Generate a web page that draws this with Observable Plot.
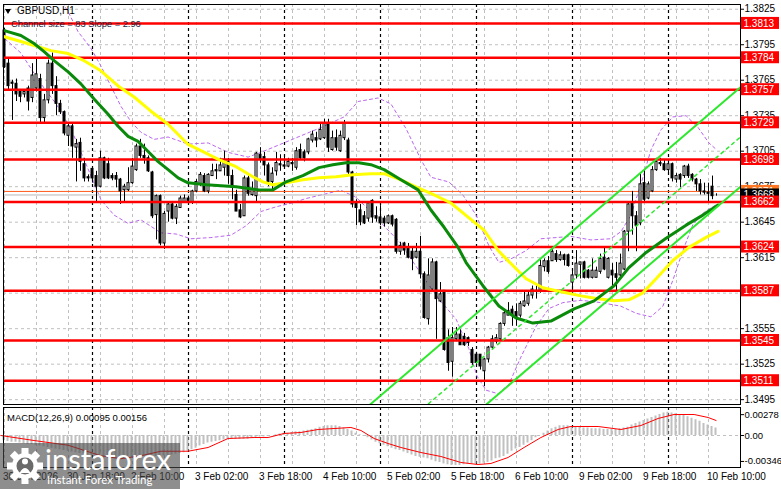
<!DOCTYPE html>
<html>
<head>
<meta charset="utf-8">
<script src="https://cdn.jsdelivr.net/npm/d3@7"></script>
<script src="https://cdn.jsdelivr.net/npm/@observablehq/plot@0.6"></script>
<style>
  html, body { margin: 0; padding: 0; background: #fff; }
  #chart { position: relative; width: 781px; height: 489px; overflow: hidden; background: #fff; font-family: "Liberation Sans", Arial, sans-serif; }
  #chart svg.plotsvg { position: absolute; left: 0; }
  .ov { position: absolute; white-space: nowrap; color: #000; font-family: "Liberation Sans", Arial, sans-serif; }
  #logo { position: absolute; left: 0; top: 443px; width: 180px; height: 46px; background: rgba(72,72,72,0.62); }
</style>
</head>
<body>
<div id="chart"></div>
<script>
// ---------------- DATA ----------------
const FIRST_BAR = 2; // hourly bars, bar 0 = 30 Jan 00:00 (weekend skipped)
const opens = [1.3807,1.3779,1.3763,1.3762,1.3755,1.3753,1.3758,1.3750,1.3758,1.3766,1.3733,1.3748,1.3779,1.3760,1.3745,1.3738,1.3718,1.3726,1.3708,1.3712,1.3694,1.3683,1.3690,1.3684,1.3675,1.3699,1.3694,1.3684,1.3684,1.3681,1.3672,1.3672,1.3678,1.3689,1.3709,1.3701,1.3699,1.3687,1.3651,1.3667,1.3627,1.3654,1.3660,1.3648,1.3657,1.3662,
 1.3665,1.3662,1.3671,1.3677,1.3684,1.3671,1.3684,1.3689,1.3688,1.3691,1.3696,1.3684,1.3668,1.3655,1.3650,1.3682,1.3668,1.3667,1.3702,1.3700,1.3693,1.3679,1.3688,1.3694,1.3693,1.3692,1.3695,1.3691,1.3706,1.3704,1.3704,1.3714,1.3716,1.3715,1.3716,1.3728,1.3706,1.3716,1.3705,1.3716,1.3714,1.3687,1.3662,1.3655,1.3650,1.3648,
 1.3663,1.3650,1.3649,1.3648,1.3644,1.3650,1.3647,1.3620,1.3627,1.3623,1.3620,1.3615,1.3620,1.3601,1.3563,1.3588,1.3611,1.3578,1.3587,1.3547,1.3527,1.3546,1.3550,1.3548,1.3547,1.3537,1.3533,1.3533,1.3519,1.3529,1.3539,1.3544,1.3546,1.3559,1.3566,1.3571,1.3569,1.3566,1.3574,1.3576,1.3583,1.3587,1.3587,1.3607,1.3612,
 1.3612,1.3618,1.3613,1.3617,1.3617,1.3594,1.3600,1.3609,1.3611,1.3604,1.3598,1.3598,1.3603,1.3615,1.3598,1.3604,1.3601,1.3600,1.3605,1.3637,1.3661,1.3650,1.3644,1.3678,1.3665,1.3671,1.3689,1.3695,1.3694,1.3689,1.3694,1.3681,1.3685,1.3684,1.3692,1.3685,1.3681,1.3677,1.3671,1.3670,1.3675,1.3668];
const highs = [1.3809,1.3783,1.3765,1.3766,1.3757,1.3757,1.3760,1.3779,1.3783,1.3770,1.3753,1.3782,1.3788,1.3768,1.3748,1.3739,1.3728,1.3728,1.3715,1.3716,1.3699,1.3685,1.3691,1.3688,1.3705,1.3700,1.3699,1.3686,1.3687,1.3682,1.3677,1.3691,1.3699,1.3711,1.3715,1.3711,1.3701,1.3688,1.3668,1.3668,1.3654,1.3662,1.3661,1.3660,1.3667,1.3668,
 1.3667,1.3672,1.3681,1.3687,1.3686,1.3686,1.3694,1.3694,1.3699,1.3705,1.3699,1.3689,1.3672,1.3660,1.3684,1.3684,1.3679,1.3704,1.3708,1.3704,1.3695,1.3691,1.3704,1.3702,1.3702,1.3699,1.3699,1.3708,1.3711,1.3706,1.3716,1.3722,1.3721,1.3728,1.3732,1.3732,1.3722,1.3723,1.3722,1.3731,1.3716,1.3688,1.3664,1.3660,1.3654,1.3662,
 1.3664,1.3658,1.3659,1.3650,1.3651,1.3651,1.3648,1.3628,1.3628,1.3627,1.3623,1.3627,1.3633,1.3603,1.3614,1.3614,1.3612,1.3594,1.3587,1.3554,1.3556,1.3556,1.3554,1.3551,1.3548,1.3539,1.3535,1.3533,1.3530,1.3540,1.3549,1.3550,1.3560,1.3570,1.3577,1.3574,1.3576,1.3578,1.3586,1.3587,1.3591,1.3593,1.3613,1.3614,1.3616,
 1.3623,1.3621,1.3620,1.3618,1.3618,1.3604,1.3621,1.3611,1.3612,1.3605,1.3614,1.3607,1.3618,1.3624,1.3615,1.3610,1.3611,1.3618,1.3638,1.3661,1.3671,1.3654,1.3687,1.3689,1.3679,1.3692,1.3699,1.3699,1.3698,1.3695,1.3695,1.3686,1.3686,1.3693,1.3694,1.3686,1.3682,1.3681,1.3678,1.3678,1.3684,1.3669];
const lows = [1.3775,1.3756,1.3731,1.3747,1.3746,1.3750,1.3739,1.3746,1.3755,1.3729,1.3729,1.3745,1.3753,1.3735,1.3736,1.3718,1.3709,1.3699,1.3679,1.3688,1.3679,1.3679,1.3678,1.3662,1.3674,1.3681,1.3681,1.3680,1.3674,1.3660,1.3661,1.3671,1.3677,1.3688,1.3699,1.3694,1.3687,1.3648,1.3630,1.3625,1.3622,1.3645,1.3647,1.3643,1.3657,1.3661,
 1.3661,1.3660,1.3670,1.3675,1.3670,1.3669,1.3684,1.3681,1.3688,1.3684,1.3677,1.3664,1.3654,1.3648,1.3650,1.3667,1.3667,1.3662,1.3695,1.3684,1.3675,1.3671,1.3684,1.3688,1.3691,1.3691,1.3688,1.3689,1.3698,1.3696,1.3702,1.3712,1.3708,1.3714,1.3715,1.3704,1.3705,1.3705,1.3704,1.3714,1.3685,1.3657,1.3642,1.3642,1.3643,1.3645,
 1.3644,1.3645,1.3642,1.3641,1.3643,1.3641,1.3618,1.3617,1.3617,1.3614,1.3604,1.3614,1.3597,1.3563,1.3558,1.3587,1.3546,1.3577,1.3536,1.3519,1.3514,1.3544,1.3541,1.3540,1.3540,1.3524,1.3524,1.3520,1.3506,1.3526,1.3537,1.3542,1.3544,1.3557,1.3566,1.3557,1.3557,1.3564,1.3573,1.3574,1.3580,1.3580,1.3585,1.3603,1.3601,
 1.3612,1.3611,1.3612,1.3608,1.3607,1.3586,1.3597,1.3597,1.3597,1.3597,1.3597,1.3598,1.3601,1.3604,1.3597,1.3591,1.3586,1.3597,1.3604,1.3620,1.3634,1.3620,1.3642,1.3662,1.3664,1.3670,1.3688,1.3692,1.3688,1.3687,1.3679,1.3678,1.3674,1.3682,1.3682,1.3679,1.3671,1.3668,1.3668,1.3662,1.3664,1.3667];
const closes = [1.3776,1.3760,1.3762,1.3753,1.3751,1.3755,1.3747,1.3769,1.3770,1.3733,1.3748,1.3779,1.3760,1.3745,1.3738,1.3720,1.3726,1.3709,1.3711,1.3696,1.3682,1.3682,1.3682,1.3675,1.3699,1.3682,1.3682,1.3682,1.3681,1.3671,1.3675,1.3678,1.3692,1.3709,1.3701,1.3699,1.3688,1.3650,1.3667,1.3627,1.3652,1.3660,1.3648,1.3658,1.3665,1.3665,
 1.3663,1.3671,1.3679,1.3685,1.3671,1.3685,1.3688,1.3688,1.3693,1.3696,1.3684,1.3674,1.3654,1.3649,1.3682,1.3669,1.3673,1.3703,1.3698,1.3693,1.3679,1.3686,1.3695,1.3693,1.3692,1.3696,1.3694,1.3705,1.3699,1.3699,1.3715,1.3719,1.3714,1.3723,1.3728,1.3708,1.3716,1.3708,1.3718,1.3728,1.3687,1.3660,1.3657,1.3645,1.3644,1.3661,
 1.3649,1.3648,1.3644,1.3644,1.3650,1.3643,1.3620,1.3625,1.3621,1.3615,1.3614,1.3620,1.3601,1.3564,1.3600,1.3611,1.3580,1.3584,1.3537,1.3526,1.3547,1.3550,1.3541,1.3541,1.3543,1.3526,1.3526,1.3523,1.3529,1.3539,1.3546,1.3547,1.3559,1.3568,1.3570,1.3566,1.3564,1.3576,1.3578,1.3583,1.3588,1.3586,1.3608,1.3612,1.3603,
 1.3620,1.3613,1.3617,1.3613,1.3608,1.3600,1.3610,1.3611,1.3598,1.3598,1.3604,1.3604,1.3614,1.3605,1.3614,1.3600,1.3598,1.3610,1.3637,1.3660,1.3650,1.3642,1.3677,1.3664,1.3677,1.3689,1.3696,1.3694,1.3689,1.3694,1.3682,1.3684,1.3681,1.3692,1.3684,1.3681,1.3677,1.3671,1.3670,1.3669,1.3667,1.3668];

// MACD histogram (one per bar) and signal line
const macdHist = [-0.0007,-0.0008,-0.0009,-0.0009,-0.0010,-0.0011,-0.0012,-0.0012,-0.0013,
 -0.0014,-0.0015,-0.0016,-0.0017,-0.0018,-0.0019,-0.0020,-0.0021,-0.0022,-0.0023,
 -0.0024,-0.0025,-0.0026,-0.0027,-0.0028,-0.0029,-0.0030,-0.0030,-0.0031,-0.0031,
 -0.0031,-0.0031,-0.0030,-0.0030,-0.0029,-0.0028,-0.0028,-0.0027,-0.0027,-0.0028,
 -0.0028,-0.0027,-0.0027,-0.0026,-0.0025,-0.0024,-0.0023,-0.0021,-0.0019,-0.0017,
 -0.0014,-0.0012,-0.0010,-0.0009,-0.0008,-0.0007,-0.0006,-0.0005,-0.0005,-0.0005,
 -0.0005,-0.0005,-0.0005,-0.0004,-0.0003,-0.0002,-0.0002,-0.0001,0.0000,0.0001,
 0.0002,0.0003,0.0003,0.0004,0.0005,0.0005,0.0006,0.0007,0.0008,0.0009,
 0.0011,0.0012,0.0013,0.0013,0.0013,0.0012,0.0010,0.0008,0.0006,0.0003,
 0.0001,-0.0001,-0.0003,-0.0006,-0.0009,-0.0011,-0.0013,-0.0015,-0.0017,-0.0019,
 -0.0020,-0.0022,-0.0024,-0.0026,-0.0028,-0.0029,-0.0030,-0.0031,-0.0033,-0.0035,
 -0.0036,-0.0038,-0.0039,-0.0040,-0.0040,-0.0040,-0.0039,-0.0038,-0.0038,-0.0038,
 -0.0038,-0.0037,-0.0036,-0.0034,-0.0031,-0.0030,-0.0028,-0.0025,-0.0021,-0.0018,
 -0.0016,-0.0013,-0.0010,-0.0007,-0.0003,0.0000,0.0003,0.0006,0.0009,0.0011,
 0.0013,0.0013,0.0013,0.0012,0.0012,0.0011,0.0010,0.0010,0.0009,0.0009,
 0.0009,0.0008,0.0008,0.0008,0.0008,0.0009,0.0010,0.0011,0.0014,0.0016,
 0.0018,0.0020,0.0022,0.0024,0.0026,0.0028,0.0030,0.0031,0.0030,0.0029,
 0.0028,0.0027,0.0025,0.0023,0.0021,0.0019,0.0016,0.0014,0.0012,0.0010];
const signalBars = [1.1,9.4,17.9,26.1,31.1,36.1,41.1,47.9,52.9,57.9,64.4,67.9,71.9,76.1,80.4,84.4,88.6,91.1,94.4,97.9,101.1,106.1,111.1,116.1,120.4,123.6,127.9,131.9,136.1,140.4,143.6,150.4,156.1,161.1,165.4,169.4,174.4,177.9,179.9];
const signalValues = [0,-0.00067,-0.0013,-0.0027,-0.0031,-0.0027,-0.0021,-0.0021,-0.0016,-0.0004,-0.00027,-0.00027,0.00027,0.0004,0.0008,0.00093,0.00107,0.00067,-0.0004,-0.00107,-0.0016,-0.00227,-0.0028,-0.0036,-0.00387,-0.00373,-0.00293,-0.0016,-0.00027,0.0008,0.0012,0.0012,0.0008,0.00133,0.00227,0.0028,0.0028,0.0024,0.002];

// moving averages (green fast, yellow slow)
const greenMaBars = [1.75,6.1,9.4,11.9,14.4,17.9,21.1,24.4,27.9,30.4,32.9,35.4,37.9,40.4,42.9,45.4,47.9,52.4,59.9,65.6,69.1,72.4,76.6,80.6,84.1,87.4,90.6,93.6,96.9,101.1,105.4,108.6,111.9,115.4,117.4,121.6,125.6,129.9,134.1,138.6,144.4,149.4,154.4,158.1,162.4,167.4,172.4,176.6,180.4];
const greenMaPrices = [1.38071,1.38028,1.37960,1.37892,1.37815,1.37721,1.37619,1.37491,1.37363,1.37261,1.37175,1.37133,1.37047,1.36962,1.36894,1.36825,1.36783,1.36766,1.36749,1.36723,1.36723,1.36791,1.36843,1.36911,1.36936,1.36953,1.36953,1.36936,1.36894,1.36808,1.36723,1.36553,1.36407,1.36237,1.36109,1.35913,1.35742,1.35640,1.35597,1.35614,1.35717,1.35785,1.35913,1.36066,1.36194,1.36314,1.36425,1.36510,1.36595];
const yellowMaBars = [1.75,6.1,9.4,13.6,17.9,21.9,26.1,30.4,34.4,38.6,42.9,47.9,51.6,55.6,59.9,64.1,66.6,69.1,72.4,76.6,80.6,84.9,89.1,93.6,96.9,101.1,105.4,109.4,113.6,117.9,121.9,125.4,128.1,132.4,136.6,141.1,146.1,150.4,154.4,158.1,161.6,164.9,169.1,173.1,177.4,180.4];
const yellowMaPrices = [1.38020,1.37977,1.37943,1.37900,1.37875,1.37815,1.37730,1.37602,1.37508,1.37388,1.37278,1.37107,1.37047,1.36979,1.36919,1.36834,1.36791,1.36766,1.36783,1.36808,1.36825,1.36834,1.36851,1.36860,1.36860,1.36808,1.36740,1.36680,1.36612,1.36493,1.36382,1.36211,1.36117,1.35972,1.35896,1.35862,1.35827,1.35802,1.35785,1.35794,1.35853,1.35972,1.36126,1.36237,1.36322,1.36373];

// envelope bands (purple dashed)
const bandUpperBars = [12.4,17.9,20.4,23.6,26.1,28.6,31.1,33.6,36.1,39.4,42.9,47.9,52.9,57.9,62.9,66.1,71.1,76.1,81.1,86.9,90.4,95.4,98.6,102.4,106.1,108.6,113.1,116.6,119.9,123.1,125.6,128.6,132.4,136.1,139.9,143.6,148.6,153.6,156.1,158.6,161.1,163.6,166.1,169.1,172.4,175.4,178.1,180.1];
const bandUpperPrices = [1.3852,1.3823,1.3806,1.3792,1.3777,1.3760,1.3743,1.3730,1.3721,1.3715,1.3717,1.3711,1.3712,1.3704,1.3700,1.3704,1.3711,1.3718,1.3725,1.3734,1.3747,1.3750,1.3745,1.3724,1.3698,1.3683,1.3679,1.3668,1.3651,1.3625,1.3611,1.3614,1.3621,1.3631,1.3632,1.3633,1.3630,1.3631,1.3637,1.3651,1.3677,1.3706,1.3723,1.3734,1.3735,1.3725,1.3712,1.3706];
const bandLowerBars = [2.1,6.1,11.1,14.9,18.6,22.4,26.1,29.4,32.9,36.1,41.1,44.9,48.6,53.6,58.6,62.4,66.1,69.9,73.6,77.4,81.1,86.1,89.9,93.6,97.4,101.1,105.6,110.6,114.9,118.1,120.1,122.4,125.4,128.1,131.1,134.9,138.1,141.6,146.1,151.1,156.1,159.9,163.6,166.6,169.1,171.6,174.1,177.1,180.1];
const bandLowerPrices = [1.3800,1.3788,1.3762,1.3745,1.3724,1.3694,1.3664,1.3651,1.3644,1.3647,1.3636,1.3635,1.3631,1.3632,1.3634,1.3642,1.3654,1.3658,1.3661,1.3665,1.3668,1.3672,1.3666,1.3654,1.3640,1.3627,1.3604,1.3580,1.3563,1.3538,1.3515,1.3503,1.3500,1.3508,1.3531,1.3557,1.3572,1.3577,1.3579,1.3577,1.3574,1.3568,1.3565,1.3574,1.3596,1.3621,1.3643,1.3654,1.3660];

// regression channel (two points per line)
const channelUpperBars = [90, 186],  channelUpperPrices = [1.3481, 1.3759];
const channelMiddleBars = [104, 186], channelMiddlePrices = [1.3480, 1.3717];
const channelLowerBars = [118, 186], channelLowerPrices = [1.3478, 1.3675];

// horizontal levels and quote lines
const levels = [1.3813, 1.3784, 1.3757, 1.3729, 1.3698, 1.3662, 1.3624, 1.3587, 1.3545, 1.3511];
const askPrice = 1.3671, bidPrice = 1.3668;
const priceTicks = [1.3825, 1.3795, 1.3765, 1.3735, 1.3705, 1.3675, 1.3645, 1.3615, 1.3585, 1.3555, 1.3525, 1.3495];
const macdTicks = [0.00278, 0, -0.00346];

// time axis
const timeLabelBars = [2, 18, 34, 50, 66, 82, 98, 114, 130, 146, 162, 178];
const timeLabels = ["30 Jan 2026", "30 Jan 18:00", "2 Feb 10:00", "3 Feb 02:00", "3 Feb 18:00", "4 Feb 10:00", "5 Feb 02:00", "5 Feb 18:00", "6 Feb 10:00", "9 Feb 02:00", "9 Feb 18:00", "10 Feb 10:00"];
const gridBars = [2,10,18,26,34,42,50,58,66,74,82,90,98,106,114,122,130,138,146,154,162,170,178];
const dayStartBars = [24, 48, 72, 96, 120, 144, 168];

// ---------------- BUILD ----------------
const candles = opens.map((o, i) => ({bar: FIRST_BAR + i, open: o, high: highs[i], low: lows[i], close: closes[i]}));
const bulls = candles.filter(d => d.close >= d.open);
const bears = candles.filter(d => d.close < d.open);
const hist = macdHist.map((v, i) => ({bar: FIRST_BAR + i, v}));
const pts = (bs, ps) => bs.map((b, i) => ({bar: b, price: ps[i]}));
const signal = pts(signalBars, signalValues);
const greenMa = pts(greenMaBars, greenMaPrices);
const yellowMa = pts(yellowMaBars, yellowMaPrices);
const bandUp = pts(bandUpperBars, bandUpperPrices);
const bandLo = pts(bandLowerBars, bandLowerPrices);
const chUp = pts(channelUpperBars, channelUpperPrices);
const chMid = pts(channelMiddleBars, channelMiddlePrices);
const chLo = pts(channelLowerBars, channelLowerPrices);
const labelMap = new Map(timeLabelBars.map((b, i) => [b, timeLabels[i]]));

const X_DOMAIN = [1.75, 186];
const XMAX = X_DOMAIN[1];
const FONT = "Liberation Sans, Arial, sans-serif";

const boxMarks = (vals, fill, textFill) => [
  Plot.rect(vals, {x1: () => XMAX, x2: () => XMAX, y1: d => d, y2: d => d,
    insetLeft: 1, insetRight: -39, insetTop: -6, insetBottom: -6, fill}),
  Plot.text(vals, {x: () => XMAX, y: d => d, text: d => d.toFixed(4), dx: 3,
    textAnchor: "start", fill: textFill, fontSize: 10})
];

const main = Plot.plot({
  width: 781, height: 405,
  marginLeft: 3, marginRight: 41, marginTop: 4, marginBottom: 1,
  x: {domain: X_DOMAIN, axis: null},
  y: {domain: [1.34909, 1.38290], axis: null},
  style: {fontFamily: FONT, fontSize: "10px", background: "transparent", overflow: "visible"},
  marks: [
    Plot.ruleY(priceTicks, {stroke: "#c0c0c0", strokeDasharray: "3,3"}),
    Plot.ruleX(gridBars, {stroke: "#c0c0c0", strokeDasharray: "3,3"}),
    Plot.ruleX(dayStartBars, {stroke: "#000", strokeDasharray: "3,3", strokeWidth: 1.2}),
    Plot.line(bandUp, {x: "bar", y: "price", stroke: "#bb66ee", strokeDasharray: "3,3", strokeWidth: 1, clip: true}),
    Plot.line(bandLo, {x: "bar", y: "price", stroke: "#bb66ee", strokeDasharray: "3,3", strokeWidth: 1, clip: true}),
    Plot.ruleY([bidPrice], {stroke: "#b8b8b8", strokeWidth: 1}),
    Plot.ruleY([askPrice], {stroke: "#ff5a1a", strokeWidth: 1}),
    Plot.ruleX(candles, {x: "bar", y1: "low", y2: "high", stroke: "#000", strokeWidth: 1}),
    Plot.rect(bulls, {x1: d => d.bar - 0.25, x2: d => d.bar + 0.25, y1: "open", y2: "close", fill: "#fff", stroke: "#000", strokeWidth: 1}),
    Plot.rect(bears, {x1: d => d.bar - 0.25, x2: d => d.bar + 0.25, y1: "open", y2: "close", fill: "#000", stroke: "#000", strokeWidth: 1}),
    Plot.ruleY(levels, {stroke: "#ff0000", strokeWidth: 2.5}),
    Plot.line(yellowMa, {x: "bar", y: "price", stroke: "#ffff00", strokeWidth: 3, clip: true}),
    Plot.line(greenMa, {x: "bar", y: "price", stroke: "#0a8a0a", strokeWidth: 3, clip: true}),
    Plot.line(chUp, {x: "bar", y: "price", stroke: "#2ee82e", strokeWidth: 2, clip: true}),
    Plot.line(chLo, {x: "bar", y: "price", stroke: "#2ee82e", strokeWidth: 2, clip: true}),
    Plot.line(chMid, {x: "bar", y: "price", stroke: "#2ee82e", strokeWidth: 1.5, strokeDasharray: "3,4", clip: true}),
    Plot.frame({stroke: "#000"}),
    Plot.axisY(priceTicks, {anchor: "right", tickFormat: d => d.toFixed(4), tickSize: 3, tickPadding: 1, label: null, fontSize: 10}),
    ...boxMarks([askPrice], "#ff7722", "#fff"),
    ...boxMarks([bidPrice], "#000", "#fff"),
    ...boxMarks(levels, "#ff0000", "#fff")
  ]
});
main.classList.add("plotsvg");
main.style.top = "0px";

const macd = Plot.plot({
  width: 781, height: 84,
  marginLeft: 3, marginRight: 41, marginTop: 2, marginBottom: 22,
  x: {domain: X_DOMAIN, axis: null},
  y: {domain: [-0.004267, 0.003733], axis: null},
  style: {fontFamily: FONT, fontSize: "10px", background: "transparent", overflow: "visible"},
  marks: [
    Plot.ruleX(gridBars, {stroke: "#c0c0c0", strokeDasharray: "3,3"}),
    Plot.ruleX(dayStartBars, {stroke: "#000", strokeDasharray: "3,3", strokeWidth: 1.2}),
    Plot.ruleY([0], {stroke: "#c0c0c0", strokeDasharray: "3,3"}),
    Plot.rect(hist, {x1: d => d.bar - 0.375, x2: d => d.bar + 0.125, y1: () => 0, y2: "v", fill: "#c0c0c0"}),
    Plot.line(signal, {x: "bar", y: "price", stroke: "#ff0000", strokeWidth: 1}),
    Plot.frame({stroke: "#000"}),
    Plot.axisY(macdTicks, {anchor: "right", tickFormat: d => d === 0 ? "0.00" : d.toFixed(5), tickSize: 3, tickPadding: 1, label: null, fontSize: 9.5}),
    Plot.axisX(timeLabelBars, {anchor: "bottom", tickFormat: d => labelMap.get(d), textAnchor: "start", tickSize: 0, tickPadding: 5, dx: -1.5, label: null, fontSize: 10})
  ]
});
macd.classList.add("plotsvg");
macd.style.top = "405px";

const chart = document.getElementById("chart");
chart.appendChild(main);
chart.appendChild(macd);

// ---- overlays: titles and logo ----
function ov(text, left, top, size, color) {
  const d = document.createElement("div");
  d.className = "ov";
  d.textContent = text;
  Object.assign(d.style, {left: left + "px", top: top + "px", fontSize: size + "px", lineHeight: "12px", color: color || "#000"});
  chart.appendChild(d);
  return d;
}
const tri = document.createElement("div");
Object.assign(tri.style, {position: "absolute", left: "5px", top: "9px", width: 0, height: 0,
  borderLeft: "3.5px solid transparent", borderRight: "3.5px solid transparent", borderTop: "5px solid #000"});
chart.appendChild(tri);
ov("GBPUSD,H1", 17, 5, 10);
ov("Channel size = 83 Slope = 2.96", 11, 18, 9.3, "#1c1c3c");
ov("MACD(12,26,9) 0.00095 0.00156", 7, 412, 9.5);

const logo = document.createElement("div");
logo.id = "logo";
logo.innerHTML = `
<svg width="46" height="46" style="position:absolute;left:2px;top:0px" viewBox="0 0 46 46">
  <g transform="translate(23,23)" fill="#fff">
    ${[0,45,90,135,180,225,270,315].map(a => `<rect x="-3.5" y="-18" width="7" height="7" transform="rotate(${a})"/>`).join("")}
    <circle r="13"/>
  </g>
  <circle cx="23" cy="23" r="8.5" fill="#6a6a6a"/>
  <circle cx="23" cy="18.5" r="3" fill="#fff"/>
  <path d="M17.5 30 Q23 20 28.5 30 Z" fill="#fff"/>
</svg>
<div style="position:absolute;left:45px;top:1px;font-family:Lato,'Open Sans',sans-serif;font-size:29px;line-height:29px;color:#fff;white-space:nowrap">instaforex</div>
<div style="position:absolute;left:47px;top:31px;font-family:Lato,'Open Sans',sans-serif;font-size:11.5px;line-height:12px;color:#fff;white-space:nowrap">Instant Forex Trading</div>`;
chart.appendChild(logo);
</script>
</body>
</html>
